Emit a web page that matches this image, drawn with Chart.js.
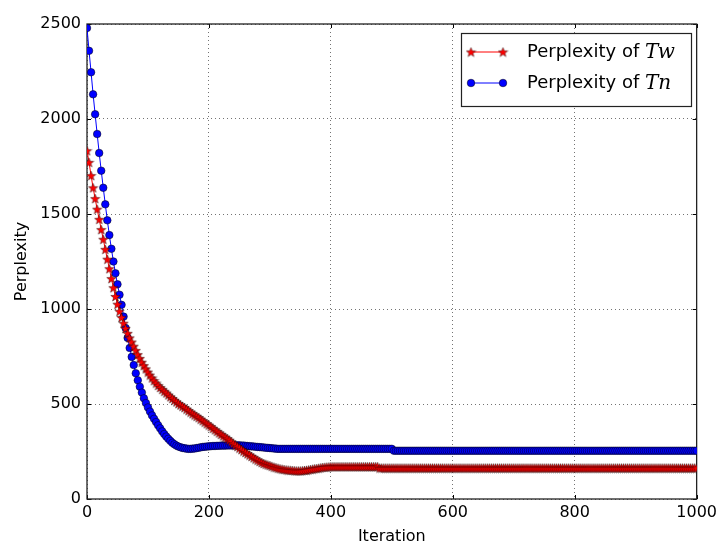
<!DOCTYPE html>
<html>
<head>
<meta charset="utf-8">
<script src="https://cdn.jsdelivr.net/npm/chart.js@4.4.1/dist/chart.umd.min.js"></script>
<style>
  html, body { margin: 0; padding: 0; background: #fff; }
  #wrap { width: 721px; height: 546px; }
</style>
</head>
<body>
<div id="wrap"><canvas id="lineChart" width="721" height="546"></canvas></div>
<script>
// iterations are sampled 301 times over 0..1000
var ITER_STEP = 1000 / 300;

var xTicks = [0, 200, 400, 600, 800, 1000];
var yTicks = [0, 500, 1000, 1500, 2000, 2500];

var seriesNames = ["Perplexity of ", "Perplexity of "];
var seriesMath = ["Tw", "Tn"];

// Perplexity of Tw (red stars)
var perplexityTw = [
    1833, 1772, 1702, 1638, 1581, 1525, 1472, 1418, 1367, 1314,
    1262, 1212, 1160, 1112, 1066, 1025, 988, 955, 925, 898,
    872, 848, 826, 804, 782, 760, 740, 720, 702, 685,
    668, 652, 637, 623, 610, 598, 587, 577, 567, 558, 548,
    538, 529, 520, 511, 502, 495, 488, 481, 473, 465,
    457, 449, 442, 435, 428, 420, 412, 404, 396, 389,
    381, 372, 364, 356, 348, 340, 332, 325, 318, 310,
    301, 292, 284, 276, 268, 260, 252, 245, 238, 231,
    224, 217, 210, 204, 198, 192, 187, 183, 179, 176,
    172, 168, 165, 162, 159, 157, 155, 153, 152, 151,
    150, 149, 148, 148, 148, 149, 150, 151, 153, 155,
    157, 159, 160, 162, 164, 166, 167, 168, 169,
    170, 170, 170, 170, 170, 170, 170, 170, 170, 170, 170, 170,
    170, 170, 170, 170, 170, 170, 170, 170, 170, 170, 170, 170,
    163, 163, 163, 163, 163, 163, 163, 163, 163, 163, 163, 163, 163, 163, 163, 163, 163, 163, 163, 163,
    163, 163, 163, 163, 163, 163, 163, 163, 163, 163, 163, 163, 163, 163, 163, 163, 163, 163, 163, 163,
    163, 163, 163, 163, 163, 163, 163, 163, 163, 163, 163, 163, 163, 163, 163, 163, 163, 163, 163, 163,
    163, 163, 163, 163, 163, 163, 163, 163, 163, 163, 163, 163, 163, 163, 163, 163, 163, 163, 163, 163,
    163, 163, 163, 163, 163, 163, 163, 163, 163, 163, 163, 163, 163, 163, 163, 163, 163, 163, 163, 163,
    163, 163, 163, 163, 163, 163, 163, 163, 163, 163, 163, 163, 163, 163, 163, 163, 163, 163, 163, 163,
    163, 163, 163, 163, 163, 163, 163, 163, 163, 163, 163, 163, 163, 163, 163, 163, 163, 163, 163, 163,
    163, 163, 163, 163, 163, 163, 163, 163, 163, 163, 163, 163, 163, 163, 163, 163, 163
];

// Perplexity of Tn (blue circles)
var perplexityTn = [
    2479, 2359, 2246, 2130, 2025, 1921, 1821, 1728, 1638, 1551, 1467, 1389, 1317,
    1250, 1188, 1130, 1075, 1022, 960, 900, 848, 795, 748, 705, 662, 625, 591, 560, 530, 505,
    482, 460, 440, 422, 405, 388, 372, 356, 342, 329, 317, 306, 296, 288, 281, 276,
    272, 269, 267, 265, 264, 264, 265, 266, 268, 270, 272, 274, 275, 276, 277,
    278, 279, 279, 280, 280, 281, 281, 281, 282, 282, 282, 282, 282, 282, 282,
    281, 281, 280, 279, 278, 277, 276, 275, 274, 273, 272, 271, 270, 269, 268, 267, 266, 265, 264,
    264, 264, 264, 264, 264, 264, 264, 264, 264, 264, 264, 264, 264, 264, 264, 264, 264, 264, 264, 264,
    264, 264, 264, 264, 264, 264, 264, 264, 264, 264, 264, 264, 264, 264, 264, 264, 264, 264, 264, 264,
    264, 264, 264, 264, 264, 264, 264, 264, 264, 264, 264, 264, 264, 264, 264, 264,
    254, 254, 254, 254, 254, 254, 254, 254, 254, 254, 254, 254, 254, 254, 254, 254, 254, 254, 254, 254,
    254, 254, 254, 254, 254, 254, 254, 254, 254, 254, 254, 254, 254, 254, 254, 254, 254, 254, 254, 254,
    254, 254, 254, 254, 254, 254, 254, 254, 254, 254, 254, 254, 254, 254, 254, 254, 254, 254, 254, 254,
    254, 254, 254, 254, 254, 254, 254, 254, 254, 254, 254, 254, 254, 254, 254, 254, 254, 254, 254, 254,
    254, 254, 254, 254, 254, 254, 254, 254, 254, 254, 254, 254, 254, 254, 254, 254, 254, 254, 254, 254,
    254, 254, 254, 254, 254, 254, 254, 254, 254, 254, 254, 254, 254, 254, 254, 254, 254, 254, 254, 254,
    254, 254, 254, 254, 254, 254, 254, 254, 254, 254, 254, 254, 254, 254, 254, 254, 254, 254, 254, 254,
    254, 254, 254, 254, 254, 254, 254, 254, 254, 254
];

var FONT = "'DejaVu Sans', sans-serif";

function makeStar(size) {
    var c = document.createElement("canvas");
    c.width = size;
    c.height = size;
    var g = c.getContext("2d");
    var cx = size / 2, cy = size / 2 + 0.5, ro = size / 2 - 0.5, ri = ro * 0.42;
    g.beginPath();
    for (var k = 0; k < 10; k++) {
        var r = k % 2 === 0 ? ro : ri;
        var a = -Math.PI / 2 + k * Math.PI / 5;
        var px = cx + r * Math.cos(a), py = cy + r * Math.sin(a);
        if (k === 0) g.moveTo(px, py); else g.lineTo(px, py);
    }
    g.closePath();
    g.fillStyle = "#ff0000";
    g.fill();
    g.lineWidth = 0.4;
    g.strokeStyle = "#000";
    g.stroke();
    return c;
}

var starImg = makeStar(11);

function toPoints(values) {
    return values.map(function (v, i) { return { x: i * ITER_STEP, y: v }; });
}

function drawCircle(ctx, x, y) {
    ctx.beginPath();
    ctx.arc(x, y, 3.8, 0, Math.PI * 2);
    ctx.fillStyle = "#0000ff";
    ctx.fill();
    ctx.lineWidth = 0.5;
    ctx.strokeStyle = "#000";
    ctx.stroke();
}

var framePlugin = {
    id: "frame",
    beforeDatasetsDraw: function (chart) {
        var ctx = chart.ctx, a = chart.chartArea;
        var xs = chart.scales.x, ys = chart.scales.y;
        ctx.save();
        ctx.strokeStyle = "#000";
        ctx.lineWidth = 1;
        ctx.beginPath();
        xTicks.forEach(function (t) {
            var px = Math.round(xs.getPixelForValue(t)) + 0.5;
            ctx.moveTo(px, a.bottom); ctx.lineTo(px, a.bottom - 4);
            ctx.moveTo(px, a.top); ctx.lineTo(px, a.top + 4);
        });
        yTicks.forEach(function (t) {
            var py = Math.round(ys.getPixelForValue(t)) + 0.5;
            ctx.moveTo(a.left, py); ctx.lineTo(a.left + 4, py);
            ctx.moveTo(a.right, py); ctx.lineTo(a.right - 4, py);
        });
        ctx.stroke();
        ctx.lineWidth = 1.3;
        ctx.strokeStyle = "#222";
        ctx.strokeRect(a.left, a.top, a.right - a.left, a.bottom - a.top);
        ctx.restore();
    }
};

var legendPlugin = {
    id: "boxLegend",
    afterDraw: function (chart) {
        var ctx = chart.ctx;
        var bx = 461, by = 33, bw = 230, bh = 73;
        ctx.save();
        ctx.fillStyle = "#fff";
        ctx.fillRect(bx, by, bw, bh);
        ctx.lineWidth = 1.2;
        ctx.strokeStyle = "#222";
        ctx.strokeRect(bx + 0.5, by + 0.5, bw, bh);
        var rows = [52, 83];
        var colors = ["#ff0000", "#0000ff"];
        for (var i = 0; i < 2; i++) {
            var y = rows[i];
            ctx.beginPath();
            ctx.moveTo(471, y);
            ctx.lineTo(503, y);
            ctx.lineWidth = 1;
            ctx.strokeStyle = colors[i];
            ctx.stroke();
            if (i === 0) {
                ctx.drawImage(starImg, 471 - 5.5, y - 5.5);
                ctx.drawImage(starImg, 503 - 5.5, y - 5.5);
            } else {
                drawCircle(ctx, 471, y);
                drawCircle(ctx, 503, y);
            }
            ctx.fillStyle = "#000";
            ctx.textBaseline = "middle";
            ctx.textAlign = "left";
            ctx.font = "18px " + FONT;
            ctx.fillText(seriesNames[i], 527, y);
            var w = ctx.measureText(seriesNames[i]).width;
            ctx.font = "italic 20px 'DejaVu Serif', 'Liberation Serif', serif";
            ctx.fillText(seriesMath[i], 527 + w, y + 1);
        }
        ctx.restore();
    }
};

var data = {
    datasets: [
        {
            label: seriesNames[0] + seriesMath[0],
            data: toPoints(perplexityTw),
            borderColor: "#ff0000",
            borderWidth: 1,
            pointStyle: starImg,
            pointRadius: 5,
            pointHoverRadius: 5,
            fill: false,
            tension: 0
        },
        {
            label: seriesNames[1] + seriesMath[1],
            data: toPoints(perplexityTn),
            borderColor: "#0000ff",
            borderWidth: 1,
            pointStyle: "circle",
            pointRadius: 3.8,
            pointHoverRadius: 3.8,
            pointBackgroundColor: "#0000ff",
            pointBorderColor: "#000",
            pointBorderWidth: 0.5,
            fill: false,
            tension: 0
        }
    ]
};

var gridStyle = {
    color: "rgba(0,0,0,0.55)",
    lineWidth: 1,
    drawTicks: false
};

function plainLabel(v) { return String(v); }

var options = {
    responsive: false,
    animation: false,
    events: [],
    layout: { padding: { left: 0, top: 24, right: 23, bottom: 0 } },
    plugins: {
        legend: { display: false },
        tooltip: { enabled: false }
    },
    scales: {
        x: {
            type: "linear",
            min: 0,
            max: 1000,
            grid: gridStyle,
            border: { display: false, dash: [1, 3] },
            afterBuildTicks: function (s) { s.ticks = xTicks.map(function (v) { return { value: v }; }); },
            afterFit: function (s) { s.height = 47; },
            ticks: {
                color: "#000",
                font: { family: FONT, size: 16 },
                padding: 4,
                maxRotation: 0,
                callback: plainLabel
            },
            title: {
                display: true,
                text: "Iteration",
                color: "#000",
                font: { family: FONT, size: 16 },
                padding: { top: 0, bottom: 0 }
            }
        },
        y: {
            type: "linear",
            min: 0,
            max: 2500,
            grid: gridStyle,
            border: { display: false, dash: [1, 3] },
            afterBuildTicks: function (s) { s.ticks = yTicks.map(function (v) { return { value: v }; }); },
            afterFit: function (s) { s.width = 87; },
            ticks: {
                color: "#000",
                font: { family: FONT, size: 16 },
                padding: 6,
                callback: plainLabel
            },
            title: {
                display: true,
                text: "Perplexity",
                color: "#000",
                font: { family: FONT, size: 16 },
                padding: { top: 12, bottom: 0 }
            }
        }
    }
};

var ctx = document.getElementById("lineChart").getContext("2d");
new Chart(ctx, { type: "line", data: data, options: options, plugins: [framePlugin, legendPlugin] });
</script>
</body>
</html>
